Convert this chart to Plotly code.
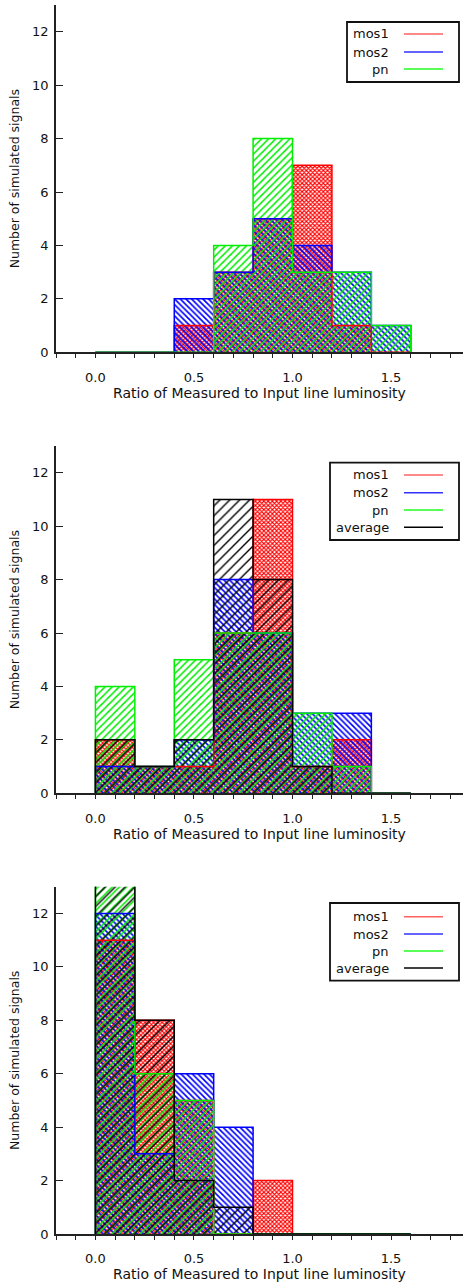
import numpy as np
import plotly.graph_objects as go

# ---------------- data ----------------
bin_edges = [0.0, 0.2, 0.4, 0.6, 0.8, 1.0, 1.2, 1.4, 1.6]
series_names = ["mos1", "mos2", "pn", "average"]

p1_mos1 = [0, 0, 1, 3, 5, 7, 1, 0]
p1_mos2 = [0, 0, 2, 3, 5, 4, 3, 1]
p1_pn = [0, 0, 0, 4, 8, 3, 3, 1]

p2_mos1 = [2, 1, 1, 6, 11, 1, 2, 0]
p2_mos2 = [1, 1, 2, 8, 6, 3, 3, 0]
p2_pn = [4, 1, 5, 6, 6, 3, 1, 0]
p2_avg = [2, 1, 2, 11, 8, 1, 0, 0]

p3_mos1 = [11, 8, 5, 0, 2, 0, 0, 0]
p3_mos2 = [12, 3, 6, 4, 0, 0, 0, 0]
p3_pn = [14, 6, 5, 0, 0, 0, 0, 0]
p3_avg = [15, 8, 2, 1, 0, 0, 0, 0]

x_ticks = [0.0, 0.5, 1.0, 1.5]
x_tick_labels = ["0.0", "0.5", "1.0", "1.5"]
y_ticks = [0, 2, 4, 6, 8, 10, 12]
x_title = "Ratio of Measured to Input line luminosity"
y_title = "Number of simulated signals"

panels = [
    {"mos1": p1_mos1, "mos2": p1_mos2, "pn": p1_pn},
    {"mos1": p2_mos1, "mos2": p2_mos2, "pn": p2_pn, "average": p2_avg},
    {"mos1": p3_mos1, "mos2": p3_mos2, "pn": p3_pn, "average": p3_avg},
]

# ---------------- style ----------------
W, H = 463, 1285
ML, MR, MT, MB = 56, 0, 5, 51
FONT = "DejaVu Sans"
FS = 13
AX = "#222222"
colors = {"mos1": "#ff0000", "mos2": "#0000ff", "pn": "#00ee00", "average": "#000000"}
legend_colors = {"mos1": "#ff6060", "mos2": "#3030ff", "pn": "#20ff20", "average": "#000000"}
patterns = {
    "mos1": dict(shape="x", size=3, solidity=0.6),
    "mos2": dict(shape="\\", size=4, solidity=0.4),
    "pn": dict(shape="/", size=5, solidity=0.3),
    "average": dict(shape="/", size=7, solidity=0.2),
}
# panel pixel boxes (top, bottom)
panel_px = [(5, 352.3), (446, 793.3), (886.7, 1234)]
legend_px = [
    dict(box=(347, 459, 22, 82), rows=[34, 52, 69]),
    dict(box=(330, 459, 462.7, 540), rows=[475, 492.7, 510, 527.3]),
    dict(box=(330, 459, 903, 980.7), rows=[916.7, 934, 951, 968]),
]
TEXT_RIGHT, LINE_X0, LINE_X1 = 391, 404, 443

PW = W - ML - MR
PH = H - MT - MB


def px_x(px):
    return (px - ML) / PW


def px_y(py):
    return (H - MB - py) / PH


edges = np.array(bin_edges)
centers = (edges[:-1] + edges[1:]) / 2
widths = np.diff(edges)

fig = go.Figure()
shapes = []
annotations = []

for i, panel in enumerate(panels):
    k = i + 1
    xa = "x" if k == 1 else f"x{k}"
    ya = "y" if k == 1 else f"y{k}"
    for name in series_names:
        if name not in panel:
            continue
        counts = panel[name]
        c = colors[name]
        pat = patterns[name]
        fig.add_trace(go.Bar(
            x=centers, y=counts, width=widths,
            marker=dict(color="rgba(0,0,0,0)", line=dict(width=0),
                        pattern=dict(shape=pat["shape"], size=pat["size"],
                                     solidity=pat["solidity"], fgcolor=c,
                                     bgcolor="rgba(0,0,0,0)", fillmode="replace")),
            xaxis=xa, yaxis=ya, showlegend=False, hoverinfo="skip",
        ))
    for name in series_names:
        if name not in panel:
            continue
        counts = panel[name]
        sx = np.concatenate([[edges[0]], edges])
        sy = np.concatenate([[0], counts, [0]])
        fig.add_trace(go.Scatter(
            x=sx, y=sy, mode="lines", line=dict(shape="hv", color=colors[name], width=1.5),
            xaxis=xa, yaxis=ya, showlegend=False, hoverinfo="skip",
        ))

    top, bot = panel_px[i]
    dom = [px_y(bot), px_y(top)]
    xkey = "xaxis" if k == 1 else f"xaxis{k}"
    ykey = "yaxis" if k == 1 else f"yaxis{k}"
    fig.layout[xkey] = dict(
        domain=[0, 1], anchor=ya, range=[-0.2, 1.865],
        showline=True, linecolor=AX, linewidth=1.5,
        tickvals=x_ticks, ticktext=x_tick_labels, ticks="outside", ticklen=4,
        tickcolor=AX, tickwidth=1, ticklabelstandoff=8,
        minor=dict(dtick=0.1, tick0=0, ticks="outside", ticklen=4, tickcolor=AX, tickwidth=1),
        showgrid=False, zeroline=False,
        tickfont=dict(family=FONT, size=FS, color="#111"),
        title=dict(text=x_title, font=dict(family=FONT, size=14, color="#111"), standoff=1),
    )
    fig.layout[ykey] = dict(
        domain=dom, anchor=xa, range=[0, 13],
        showline=True, linecolor=AX, linewidth=1.5,
        tickvals=y_ticks, ticks="inside", ticklen=7, tickcolor=AX, tickwidth=1,
        ticklabelstandoff=3,
        showgrid=False, zeroline=False,
        tickfont=dict(family=FONT, size=FS, color="#111"),
        title=dict(text=y_title, font=dict(family=FONT, size=12.5, color="#111"), standoff=10),
    )
    # top ticks axis
    fig.layout[f"xaxis{k + 3}"] = dict(
        overlaying=xa, side="top", anchor=ya, range=[-0.2, 1.865],
        showline=True, linecolor=AX, linewidth=1.5,
        tickvals=x_ticks, ticks="inside", ticklen=5, tickcolor=AX, tickwidth=1,
        showticklabels=False, showgrid=False, zeroline=False,
    )
    # right ticks axis
    fig.layout[f"yaxis{k + 3}"] = dict(
        overlaying=ya, side="right", anchor=xa, range=[0, 13],
        showline=False, tickvals=y_ticks, ticks="inside", ticklen=2,
        tickcolor=AX, tickwidth=1, showticklabels=False,
        showgrid=False, zeroline=False,
    )

    # legend box
    lg = legend_px[i]
    bx0, bx1, by0, by1 = lg["box"]
    shapes.append(dict(type="rect", xref="paper", yref="paper",
                       x0=px_x(bx0), x1=px_x(bx1), y0=px_y(by1), y1=px_y(by0),
                       line=dict(color="#111", width=1.8), fillcolor="white", layer="above"))
    names_here = [n for n in series_names if n in panel]
    for name, ry in zip(names_here, lg["rows"]):
        annotations.append(dict(xref="paper", yref="paper", x=px_x(TEXT_RIGHT), y=px_y(ry),
                                xanchor="right", yanchor="middle", text=name, showarrow=False,
                                font=dict(family=FONT, size=FS, color="#111")))
        shapes.append(dict(type="line", xref="paper", yref="paper",
                           x0=px_x(LINE_X0), x1=px_x(LINE_X1), y0=px_y(ry), y1=px_y(ry),
                           line=dict(color=legend_colors[name], width=1.5), layer="above"))

fig.update_layout(
    width=W, height=H, margin=dict(l=ML, r=MR, t=MT, b=MB),
    paper_bgcolor="white", plot_bgcolor="white",
    barmode="overlay", bargap=0,
    shapes=shapes, annotations=annotations,
    font=dict(family=FONT, size=FS, color="#111"),
)

fig.write_html("out.html")
